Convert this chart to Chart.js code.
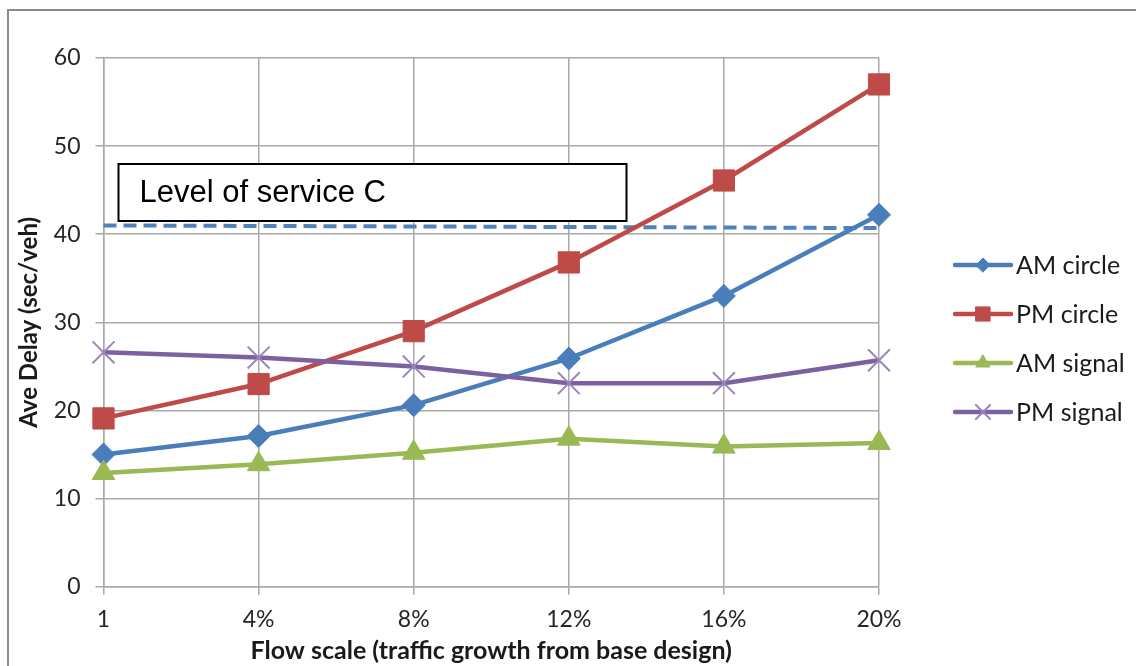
<!DOCTYPE html>
<html>
<head>
<meta charset="utf-8">
<script src="https://cdn.jsdelivr.net/npm/chart.js@4.4.1/dist/chart.umd.min.js"></script>
<style>
  html, body { margin: 0; padding: 0; background: #ffffff; }
  #wrap { width: 1136px; height: 666px; position: relative; }
</style>
</head>
<body>
<div id="wrap"><canvas id="chart" width="1136" height="666"></canvas></div>
<script>
// Flow scale categories (x axis)
const flowScale = ['1', '4%', '8%', '12%', '16%', '20%'];

// Average delay per scenario, sec/veh
const amCircle = [15.0, 17.1, 20.6, 25.9, 33.0, 42.2];
const pmCircle = [19.1, 23.0, 29.0, 36.8, 46.1, 57.0];
const amSignal = [12.9, 13.9, 15.2, 16.8, 15.9, 16.3];
const pmSignal = [26.6, 26.0, 25.0, 23.1, 23.1, 25.7];

// Level of service C threshold line (end points only)
const losC = [41.0, null, null, null, null, 40.7];
const losLabel = 'Level of service C';

// Y axis range
const yMin = 0, yMax = 60, yStep = 10;

const FONT = 'Lato, "Open Sans", "DejaVu Sans", sans-serif';
const GRID = '#A9A9A9';

const series = [
  { label: 'AM circle', data: amCircle, color: '#4A7EBB', style: 'rectRot', r: 11.5, lr: 7, order: 4 },
  { label: 'PM circle', data: pmCircle, color: '#BE4B48', style: 'rect', r: 15, lr: 10, order: 3 },
  { label: 'AM signal', data: amSignal, color: '#98B954', style: 'triangle', r: 13, lr: 8, order: 2 },
  { label: 'PM signal', data: pmSignal, color: '#7D60A0', style: 'crossRot', r: 15.5, lr: 10, order: 1 }
];

const datasets = series.map(s => ({
  label: s.label,
  data: s.data,
  borderColor: s.color,
  backgroundColor: s.color,
  borderWidth: 4.5,
  tension: 0,
  pointStyle: s.style,
  pointRadius: s.r,
  pointHoverRadius: s.r,
  pointBackgroundColor: s.color,
  pointBorderColor: s.style === 'crossRot' ? '#9A85BD' : s.color,
  pointBorderWidth: s.style === 'crossRot' ? 2 : 1,
  order: s.order,
  legendR: s.lr
}));

datasets.push({
  label: losLabel,
  data: losC,
  borderColor: '#4F81BD',
  borderWidth: 4,
  borderDash: [13, 7],
  pointRadius: 0,
  spanGaps: true,
  tension: 0,
  order: 5,
  isThreshold: true
});

// Outer frame, annotation box and legend
const decor = {
  id: 'decor',
  beforeDraw(chart) {
    const ctx = chart.ctx;
    ctx.save();
    ctx.fillStyle = '#ffffff';
    ctx.fillRect(0, 0, chart.width, chart.height);
    ctx.strokeStyle = '#8C8C8C';
    ctx.lineWidth = 2;
    ctx.strokeRect(8, 10, chart.width + 20, chart.height + 20);
    ctx.restore();
  },
  afterDraw(chart) {
    const ctx = chart.ctx;
    const area = chart.chartArea;
    ctx.save();
    // text box above the threshold line
    const bx = area.left + 15, by = 164, bw = 508, bh = 57;
    ctx.fillStyle = '#ffffff';
    ctx.fillRect(bx, by, bw, bh);
    ctx.strokeStyle = '#000000';
    ctx.lineWidth = 2;
    ctx.strokeRect(bx, by, bw, bh);
    ctx.fillStyle = '#000000';
    ctx.font = '31px "Liberation Sans", Arial, sans-serif';
    ctx.textBaseline = 'middle';
    ctx.textAlign = 'left';
    ctx.fillText(losLabel, bx + 21, by + bh / 2 + 1);

    // legend
    const lx0 = 955, lx1 = 1011, tx = 1016;
    let ly = 265;
    chart.data.datasets.forEach(ds => {
      if (ds.isThreshold) return;
      ctx.strokeStyle = ds.borderColor;
      ctx.lineWidth = 4.5;
      ctx.lineCap = 'round';
      ctx.beginPath();
      ctx.moveTo(lx0, ly);
      ctx.lineTo(lx1, ly);
      ctx.stroke();
      ctx.fillStyle = ds.pointBackgroundColor;
      ctx.strokeStyle = ds.pointBorderColor;
      ctx.lineWidth = ds.pointBorderWidth;
      Chart.helpers.drawPoint(ctx, { pointStyle: ds.pointStyle, radius: ds.legendR, rotation: 0, borderWidth: ds.pointBorderWidth }, (lx0 + lx1) / 2, ly);
      ctx.fillStyle = '#1a1a1a';
      ctx.font = '25px ' + FONT;
      ctx.textBaseline = 'middle';
      ctx.fillText(ds.label, tx, ly + 1);
      ly += 49;
    });
    ctx.restore();
  }
};

new Chart(document.getElementById('chart'), {
  type: 'line',
  data: { labels: flowScale, datasets },
  plugins: [decor],
  options: {
    responsive: false,
    animation: false,
    devicePixelRatio: 1,
    layout: { padding: { left: 0, right: 257, top: 58, bottom: 0 } },
    plugins: {
      legend: { display: false },
      tooltip: { enabled: false }
    },
    scales: {
      x: {
        type: 'category',
        offset: false,
        afterFit(scale) { scale.height = 79.3; },
        grid: { color: GRID, lineWidth: 1.5, tickLength: 8, drawTicks: true },
        border: { display: true, color: GRID, width: 1.5 },
        ticks: { color: '#262626', font: { family: FONT, size: 23 }, padding: 11, maxRotation: 0 },
        title: {
          display: true,
          text: 'Flow scale (traffic growth from base design)',
          color: '#1a1a1a',
          font: { family: FONT, size: 25, weight: 'bold' },
          padding: { top: 0, bottom: 0 }
        }
      },
      y: {
        min: yMin,
        max: yMax,
        afterFit(scale) { scale.width = 103.5; },
        grid: { color: GRID, lineWidth: 1.5, tickLength: 8 },
        border: { display: true, color: GRID, width: 1.5 },
        ticks: { stepSize: yStep, color: '#262626', font: { family: FONT, size: 23 }, padding: 15 },
        title: {
          display: true,
          text: 'Ave Delay (sec/veh)',
          color: '#1a1a1a',
          font: { family: FONT, size: 24, weight: 'bold' },
          padding: { top: 15, bottom: 0 }
        }
      }
    }
  }
});
</script>
</body>
</html>
